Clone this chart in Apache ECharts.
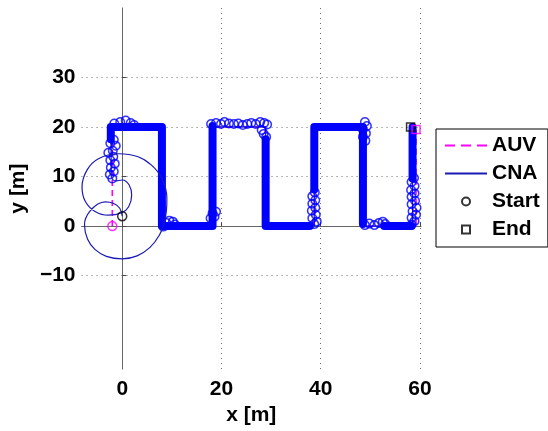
<!DOCTYPE html>
<html>
<head>
<meta charset="utf-8">
<script src="https://cdn.jsdelivr.net/npm/echarts@6/dist/echarts.min.js"></script>
<style>
  html, body { margin: 0; padding: 0; background: #fff; }
  #chart { width: 548px; height: 431px; }
</style>
</head>
<body>
<div id="chart"></div>
<script>
// Axis ticks
const xTicks = [0, 20, 40, 60];
const yTicks = [-10, 0, 10, 20, 30];

// AUV lawnmower route (m)
const auvX = [-2, -2, 8, 8, 18.2, 18.2, 28.8, 28.8, 38.7, 38.7, 48.5, 48.5, 59.2, 59.2];
const auvY = [0, 20, 20, 0, 0, 20, 20, 0, 0, 20, 20, 0, 0, 19.5];

// CNA start-up manoeuvre (loops before joining the route)
const cnaLoopX = [0, -0.5, -1.8, -3.4, -5.0, -6.5, -7.4, -7.6, -7.0, -5.5, -3.2, 0, 3.0, 5.6, 7.5, 8.4, 8.9, 9.0, 8.0, 5.9, 3.2, -0.7, -4.8, -7.1, -8.1, -7.4, -5.4, -2.8, -0.1, 1.3, 1.9, 1.4, 0, -1.4, -2.2];
const cnaLoopY = [2, 3.6, 4.6, 4.9, 4.4, 3.0, 1.5, 0.2, -2.6, -4.7, -6.1, -6.6, -6.0, -4.3, -1.8, 0.5, 3.0, 5.6, 9.6, 12.3, 14.0, 14.6, 13.6, 11.3, 7.9, 4.9, 2.9, 2.2, 2.7, 3.9, 6.2, 8.3, 9.3, 9.1, 9.8];

// CNA track along the route
const cnaRouteX = [-2.2, -2.3, 8, 8, 18.2, 18.2, 28.9, 28.9, 38.7, 38.7, 48.5, 48.5, 58.5, 58.5, 58.1];
const cnaRouteY = [9.8, 20, 20, 0, 0, 20, 20, 0, 0, 20, 20, 0, 0, 20, 20];

// Dense CNA position fixes (continuous stretches)
const fixStretches = [
  [[-2.3, 17.5], [-2.3, 20], [8, 20], [8, 0], [18.2, 0], [18.2, 20.2]],
  [[28.9, 17.5], [28.9, 0], [37.8, 0]],
  [[38.7, 7.4], [38.7, 20], [48.5, 20], [48.5, 0.4]],
  [[52.8, 0], [58.3, 0]],
  [[58.5, 9.6], [58.5, 20]]
];

// Isolated CNA position fixes
const fixX = [-2.0, -2.5, -1.7, -2.3, -1.5, -2.4, -1.8, -2.8, -1.9, -1.3, -2.4, -1.7,
  -1.6, -0.4, 0.7, 1.7, 2.4,
  8.3, 8.9, 9.5, 10.2, 10.6,
  17.8, 18.2, 18.9, 18.6,
  17.9, 18.9, 19.9, 20.6, 21.5, 22.5, 23.4, 24.3, 25.2, 26.0, 26.9, 27.8, 28.6, 29.2, 28.1, 28.5, 29.0,
  38.7, 39.2, 38.3, 39.0, 38.2, 38.9, 38.3, 38.9, 38.3, 38.8,
  48.9, 49.3, 48.5, 49.1, 48.5, 49.0,
  48.9, 49.8, 50.8, 51.7, 52.5, 53.0,
  58.3, 58.9, 58.3, 59.2, 58.5, 59.3, 58.3, 59.0, 58.3, 58.9, 58.2, 58.9, 58.3, 58.8];
const fixY = [9.6, 10.4, 11.0, 11.8, 12.6, 13.3, 14.0, 14.8, 15.2, 16.2, 16.7, 17.4,
  20.7, 21.0, 21.3, 20.8, 20.4,
  -0.1, 0.6, 1.1, 0.9, 0.3,
  1.6, 2.6, 2.9, 1.9,
  20.6, 20.8, 20.6, 21.0, 20.7, 20.6, 20.7, 20.4, 20.6, 20.8, 20.6, 21.0, 20.8, 20.5, 19.4, 18.6, 18.0,
  0.4, 0.9, 1.6, 2.3, 3.1, 3.7, 4.5, 5.2, 6.0, 6.8,
  21.0, 20.2, 19.5, 18.7, 18.0, 17.2,
  0.2, 0.5, 0.2, 0.6, 0.9, 0.4,
  0.3, 1.0, 1.7, 2.3, 3.0, 3.7, 4.4, 5.1, 5.9, 6.6, 7.3, 8.1, 8.9, 9.7];

// Start / end positions
const cnaStart = [0, 2];
const auvStart = [-2, 0];
const cnaEnd = [58.1, 20];
const auvEnd = [59.2, 19.5];

const zip = (xs, ys) => xs.map((x, i) => [x, ys[i]]);

const FONT = '"Liberation Sans", Arial, Helvetica, sans-serif';
const BLUE = '#0000ff';
const NAVY = '#1a1ab4';
const MAGENTA = '#ff00ff';
const labelStyle = { fontSize: 21, fontWeight: 'bold', color: '#000', fontFamily: FONT };
const gridDots = { color: '#6e6e6e', width: 1, type: [1, 4] };
const minusSign = v => String(v).replace('-', '\u2212');
const squareIcon = 'path://M0,0L10,0L10,10L0,10Z';

const series = [
  {
    name: 'AUV', type: 'line', data: zip(auvX, auvY), symbol: 'none', z: 1,
    itemStyle: { color: MAGENTA },
    lineStyle: { color: MAGENTA, width: 1.6, type: [6, 4] }
  },
  {
    name: 'CNA', type: 'line', data: zip(cnaRouteX, cnaRouteY), symbol: 'none', z: 2,
    itemStyle: { color: NAVY },
    lineStyle: { color: NAVY, width: 1.2 }
  }
];
fixStretches.forEach(s => series.push({
  name: 'fixes', type: 'line', data: s, symbol: 'none', z: 3,
  lineStyle: { color: BLUE, width: 8, cap: 'round', join: 'round' }
}));
series.push(
  {
    name: 'fixes', type: 'scatter', data: zip(fixX, fixY), symbol: 'circle', symbolSize: 8.5, z: 4,
    itemStyle: { color: 'rgba(0,0,0,0)', borderColor: BLUE, borderWidth: 1.5 }
  },
  {
    name: 'CNA', type: 'line', data: zip(cnaLoopX, cnaLoopY), symbol: 'none', smooth: 0.4, z: 5,
    itemStyle: { color: NAVY },
    lineStyle: { color: NAVY, width: 1.2 }
  },
  {
    name: 'Start', type: 'scatter', symbol: 'circle', symbolSize: 9, z: 6,
    data: [cnaStart, { value: auvStart, itemStyle: { borderColor: MAGENTA } }],
    itemStyle: { color: 'rgba(0,0,0,0)', borderColor: '#000', borderWidth: 1.5 }
  },
  {
    name: 'End', type: 'scatter', symbol: 'rect', symbolSize: 8, z: 6,
    data: [cnaEnd, { value: auvEnd, itemStyle: { borderColor: MAGENTA } }],
    itemStyle: { color: 'rgba(0,0,0,0)', borderColor: '#000', borderWidth: 1.5 }
  }
);

const chart = echarts.init(document.getElementById('chart'), null, { renderer: 'canvas' });
chart.setOption({
  animation: false,
  backgroundColor: '#fff',
  grid: { left: 81, top: 8, width: 340, height: 363, containLabel: false },
  xAxis: {
    type: 'value', min: -8.2, max: 60.2,
    name: 'x [m]', nameLocation: 'middle', nameGap: 32,
    nameTextStyle: labelStyle,
    axisLine: { show: true, lineStyle: { color: '#666', width: 1 } },
    axisTick: { show: true, inside: true, length: 4, customValues: xTicks, lineStyle: { color: '#444' } },
    axisLabel: { customValues: xTicks, margin: 10, formatter: minusSign, ...labelStyle },
    splitLine: { show: true, lineStyle: gridDots }
  },
  yAxis: {
    type: 'value', min: -28.85, max: 44.0,
    name: 'y [m]', nameLocation: 'middle', nameGap: 47, nameRotate: 90,
    nameTextStyle: labelStyle,
    axisLine: { show: true, lineStyle: { color: '#666', width: 1 } },
    axisTick: { show: true, inside: true, length: 4, customValues: yTicks, lineStyle: { color: '#444' } },
    axisLabel: { customValues: yTicks, margin: 6, formatter: minusSign, ...labelStyle },
    splitLine: { show: true, lineStyle: gridDots }
  },
  legend: {
    data: [
      { name: 'AUV', lineStyle: { type: [10, 6] }, itemStyle: { opacity: 0 } },
      { name: 'CNA', itemStyle: { opacity: 0 } },
      'Start',
      { name: 'End', icon: squareIcon }
    ],
    orient: 'vertical', left: 436, top: 129,
    itemWidth: 42, itemHeight: 8, itemGap: 7,
    padding: [6, 8, 7, 8],
    backgroundColor: '#fff', borderColor: '#000', borderWidth: 1,
    textStyle: labelStyle,
    selectedMode: false
  },
  series: series
});
</script>
</body>
</html>
